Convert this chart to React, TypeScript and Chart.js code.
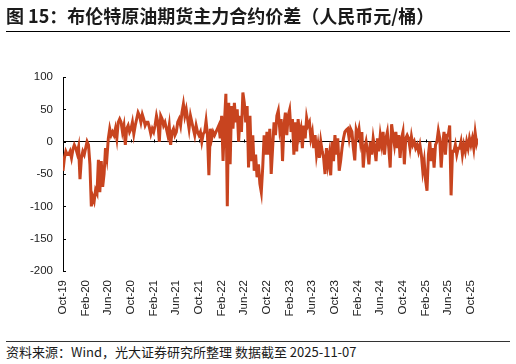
import React, { useEffect, useRef } from "react";
import { Chart, registerables } from "chart.js";

Chart.register(...registerables);

// X-axis tick labels (every 4 months)
const tickLabels = [
  "Oct-19", "Feb-20", "Jun-20", "Oct-20", "Feb-21", "Jun-21", "Oct-21",
  "Feb-22", "Jun-22", "Oct-22", "Feb-23", "Jun-23", "Oct-23", "Feb-24",
  "Jun-24", "Oct-24", "Feb-25", "Jun-25", "Oct-25",
];

// Weekly spread values (4 per month), 人民币元/桶
const spread2019 = [
  -45, -25, -15, -20, // Oct
  -20, -15, -25, -12, // Nov
  -5, -10, -18, -8, // Dec
];
const spread2020 = [
  -58, -25, -15, -20, // Jan
  -10, 0, -5, -35, // Feb
  -100, -85, -92, -75, // Mar
  -80, -28, -78, -30, // Apr
  -70, -50, -10, -25, // May
  5, 20, 10, 15, // Jun
  10, 20, 5, 30, // Jul
  35, 30, 15, 25, // Aug
  -5, 20, 25, 15, // Sep
  20, 30, 12, 25, // Oct
  35, 45, 40, 30, // Nov
  42, 35, 25, 30, // Dec
];
const spread2021 = [
  30, 22, 12, 20, // Jan
  15, 25, 40, 30, // Feb
  0, 40, 35, 25, // Mar
  30, 20, 10, 25, // Apr
  -5, 15, 20, 10, // May
  15, 30, 35, 25, // Jun
  45, 58, 40, 50, // Jul
  35, 20, 40, 30, // Aug
  20, 10, 25, 15, // Sep
  10, 15, 0, 12, // Oct
  15, 32, 10, -52, // Nov
  20, 5, 15, 10, // Dec
];
const spread2022 = [
  15, 20, 25, 5, // Jan
  40, -30, 30, 74, // Feb
  -100, 60, -35, 55, // Mar
  20, 60, 30, 50, // Apr
  0, 40, 15, 76, // May
  60, 30, 55, -40, // Jun
  40, -30, 10, -45, // Jul
  -20, -55, -35, -65, // Aug
  -78, -40, 10, -20, // Sep
  15, -20, 20, -50, // Oct
  -10, 30, 10, 40, // Nov
  48, 20, 35, -30, // Dec
];
const spread2023 = [
  25, 45, 10, 40, // Jan
  49, 15, 35, -20, // Feb
  30, -15, 35, 10, // Mar
  20, -10, 25, 5, // Apr
  37, 25, 30, 5, // May
  15, -10, 10, -20, // Jun
  -5, -25, 0, -15, // Jul
  -25, -50, -10, -35, // Aug
  -20, -52, 0, -30, // Sep
  10, -20, 5, -45, // Oct
  -30, -10, 5, 15, // Nov
  18, 20, 5, 20, // Dec
];
const spread2024 = [
  15, -10, -29, 18, // Jan
  10, 20, 0, 15, // Feb
  -40, -10, 0, -15, // Mar
  -35, 0, -20, 5, // Apr
  -10, -30, 5, -15, // May
  10, -5, 15, -20, // Jun
  5, 15, -10, -40, // Jul
  27, 10, -5, 15, // Aug
  -10, 10, -25, 5, // Sep
  15, -35, 5, 10, // Oct
  5, -10, 8, -5, // Nov
  0, -10, -5, -15, // Dec
];
const spread2025 = [
  -5, -20, -45, -30, // Jan
  -60, -76, -20, 0, // Feb
  -30, -10, -40, -5, // Mar
  0, 17, 5, -40, // Apr
  -5, 15, -20, 10, // May
  10, 25, -83, -15, // Jun
  -15, -5, -20, -10, // Jul
  -10, 0, -20, -5, // Aug
  -15, 0, -10, 5, // Sep
  -5, 5, -10, 14, // Oct
  -3, 5, // Nov (to 11-07)
];

const allValues = [
  ...spread2019, ...spread2020, ...spread2021, ...spread2022,
  ...spread2023, ...spread2024, ...spread2025,
];

const POINTS_PER_LABEL = 16; // 4 points/month * 4 months

export default function App() {
  const canvasRef = useRef<HTMLCanvasElement>(null);

  useEffect(() => {
    if (!canvasRef.current) return;
    const data = allValues.map((y, i) => ({ x: i, y }));
    const labelIdx = tickLabels.map((_, k) => k * POINTS_PER_LABEL);
    const tickFont = { family: '"Liberation Sans", Arial, sans-serif', size: 11.5 };

    const axisTicks = {
      id: "axisTicks",
      beforeDatasetsDraw(chart: any) {
        const { ctx, scales, chartArea } = chart;
        const xs = scales.x;
        const ys = scales.y;
        ctx.save();
        ctx.strokeStyle = "#000";
        ctx.lineWidth = 1;
        ctx.beginPath();
        const y0 = Math.round(ys.getPixelForValue(0)) + 0.5;
        labelIdx.forEach((v) => {
          const px = Math.round(xs.getPixelForValue(v)) + 0.5;
          ctx.moveTo(px, y0);
          ctx.lineTo(px, y0 - 3);
        });
        ys.ticks.forEach((t: any) => {
          const py = Math.round(ys.getPixelForValue(t.value)) + 0.5;
          ctx.moveTo(chartArea.left, py);
          ctx.lineTo(chartArea.left + 3, py);
        });
        ctx.stroke();
        ctx.restore();
      },
    };

    const chart = new Chart(canvasRef.current, {
      type: "line",
      data: {
        datasets: [
          {
            data,
            borderColor: "#C8441F",
            backgroundColor: "#C8441F",
            borderWidth: 3,
            pointRadius: 0,
            tension: 0,
            fill: false,
          },
        ],
      },
      options: {
        animation: false,
        responsive: false,
        maintainAspectRatio: false,
        layout: { padding: { top: 77, right: 38, left: 0, bottom: 0 } },
        plugins: { legend: { display: false }, tooltip: { enabled: false } },
        scales: {
          x: {
            type: "linear",
            min: 0,
            max: allValues.length - 1,
            afterBuildTicks: (s: any) => {
              s.ticks = labelIdx.map((v) => ({ value: v }));
            },
            afterFit: (s: any) => {
              s.height = 65;
            },
            ticks: {
              autoSkip: false,
              maxRotation: 90,
              minRotation: 90,
              padding: 9,
              color: "#222",
              font: tickFont,
              callback: (_v: any, i: number) => tickLabels[i] ?? "",
            },
            grid: { display: false, drawTicks: false },
            border: { display: false },
          },
          y: {
            min: -200,
            max: 100,
            afterFit: (s: any) => {
              s.width = 63;
            },
            ticks: { stepSize: 50, padding: 10, color: "#222", font: tickFont },
            grid: {
              drawTicks: false,
              lineWidth: 1,
              color: (c: any) => (c.tick && c.tick.value === 0 ? "#000" : "rgba(0,0,0,0)"),
            },
            border: { display: true, color: "#000", width: 1 },
          },
        },
      },
      plugins: [axisTicks],
    } as any);

    return () => chart.destroy();
  }, []);

  return (
    <div
      style={{
        position: "fixed",
        left: 0,
        top: 0,
        width: 516,
        height: 364,
        background: "#fff",
        overflow: "hidden",
      }}
    >
      <canvas
        ref={canvasRef}
        width={516}
        height={336}
        style={{ position: "absolute", left: 0, top: 0, width: 516, height: 336 }}
      />
      <div
        style={{
          position: "absolute",
          left: 6,
          top: 6,
          fontFamily: '"Noto Sans CJK SC", sans-serif',
          fontWeight: "bold",
          fontSize: 18,
          lineHeight: "18px",
          color: "#1a1a1a",
          whiteSpace: "nowrap",
        }}
      >
        图 15：布伦特原油期货主力合约价差（人民币元/桶）
      </div>
      <div style={{ position: "absolute", left: 6, top: 31, width: 504, height: 1, background: "#000" }} />
      <div style={{ position: "absolute", left: 6, top: 341, width: 504, height: 1, background: "#333" }} />
      <div
        style={{
          position: "absolute",
          left: 6,
          top: 345,
          fontFamily: '"Noto Sans CJK SC", sans-serif',
          fontSize: 13,
          lineHeight: "13px",
          color: "#1a1a1a",
          whiteSpace: "nowrap",
        }}
      >
        资料来源：Wind，光大证券研究所整理 数据截至 2025-11-07
      </div>
    </div>
  );
}
